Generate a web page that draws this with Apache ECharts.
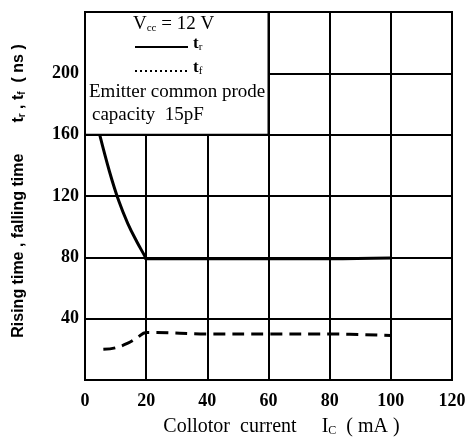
<!DOCTYPE html>
<html>
<head>
    <meta charset="utf-8">
    <title>Rising / falling time</title>
</head>
<body style="margin:0;background:#fff;">

    <div id="main" style="width: 476px; height: 438px;"></div>
    <script src="https://cdn.jsdelivr.net/npm/echarts@6/dist/echarts.min.js"></script>
    <script type="text/javascript">
        // values (x: mA, y: ns)
        var trCurrent = [4.8, 8, 11, 14, 17, 19.5, 20, 40, 60, 80, 100];
        var trTime    = [160, 136, 117, 102, 90, 81, 79, 79, 79, 79, 79.5];
        var tfCurrent = [6, 10, 14, 17, 20, 22, 40, 60, 80, 100];
        var tfTime    = [20, 21, 24, 27.5, 31, 31, 30, 30, 30, 29];
        var xTicks = [0, 20, 40, 60, 80, 100, 120];
        var yTicks = [40, 80, 120, 160, 200];

        var chartDom = document.getElementById('main');
        var myChart = echarts.init(chartDom);
        var option;

        function pairs(xs, ys) {
            return xs.map(function (x, i) { return [x, ys[i]]; });
        }

        var serif = 'Liberation Serif';
        var sub = { s: { fontSize: 11, fontFamily: serif, fill: '#000', padding: [8, 0, 0, 0] } };

        option = {
            animation: false,
            grid: {
                left: 85, right: 24, top: 12, bottom: 58,
                outerBoundsMode: 'none',
                show: true, borderColor: '#000', borderWidth: 2
            },
            xAxis: {
                type: 'value', min: 0, max: 120, interval: 20,
                name: 'Collotor  current     I{s|C}  ( mA )',
                nameLocation: 'middle', nameGap: 36,
                nameTextStyle: { fontFamily: serif, fontSize: 20, color: '#000', padding: [0, 0, 0, 26], rich: { s: { fontSize: 12, fontFamily: serif, padding: [9, 0, 0, 0] } } },
                axisLine: { lineStyle: { color: '#000', width: 2 } },
                axisTick: { show: false },
                splitLine: { lineStyle: { color: '#000', width: 2 } },
                axisLabel: {
                    margin: 12, color: '#000', fontFamily: serif, fontWeight: 'bold', fontSize: 18,
                    formatter: function (v) { return xTicks.indexOf(v) >= 0 ? String(v) : ''; }
                }
            },
            yAxis: {
                type: 'value', min: 0, max: 240, interval: 40,
                name: 'Rising time , falling time       t{s|r} , t{s|f}  ( ns )',
                nameLocation: 'middle', nameGap: 58, nameRotate: 90,
                nameTextStyle: {
                    fontFamily: 'Liberation Sans', fontWeight: 'bold', fontSize: 16, color: '#000',
                    padding: [0, 0, 0, 10],
                    rich: { s: { fontFamily: 'Liberation Sans', fontWeight: 'bold', fontSize: 10, padding: [6, 0, 0, 0] } }
                },
                axisLine: { lineStyle: { color: '#000', width: 2 } },
                axisTick: { show: false },
                splitLine: { lineStyle: { color: '#000', width: 2 } },
                axisLabel: {
                    margin: 6, color: '#000', fontFamily: serif, fontWeight: 'bold', fontSize: 18,
                    formatter: function (v) { return yTicks.indexOf(v) >= 0 ? String(v) : ''; }
                }
            },
            graphic: [
                { type: 'text', left: 133, top: 15, z: 10, style: { text: 'V{s|cc} = 12 V', rich: sub, font: '19px "Liberation Serif"', fill: '#000' } },
                { type: 'line', z: 10, shape: { x1: 135, y1: 47, x2: 188, y2: 47 }, style: { stroke: '#000', lineWidth: 2 } },
                { type: 'text', left: 193, top: 35, z: 10, style: { text: 't{s|r}', rich: sub, font: 'bold 17px "Liberation Serif"', fill: '#000' } },
                { type: 'line', z: 10, shape: { x1: 135, y1: 71, x2: 188, y2: 71 }, style: { stroke: '#000', lineWidth: 2, lineDash: [2, 3] } },
                { type: 'text', left: 193, top: 59, z: 10, style: { text: 't{s|f}', rich: sub, font: 'bold 17px "Liberation Serif"', fill: '#000' } },
                { type: 'text', left: 89, top: 83, z: 10, style: { text: 'Emitter common prode', font: '19px "Liberation Serif"', fill: '#000' } },
                { type: 'text', left: 92, top: 106, z: 10, style: { text: 'capacity  15pF', font: '19px "Liberation Serif"', fill: '#000' } }
            ],
            series: [
                {
                    name: 'tr', type: 'line', symbol: 'none',
                    smooth: 0.4,
                    lineStyle: { color: '#000', width: 3 },
                    data: pairs(trCurrent, trTime),
                    markArea: {
                        silent: true,
                        itemStyle: { color: '#fff', borderColor: '#000', borderWidth: 2 },
                        data: [[{ coord: [0, 160] }, { coord: [60, 240] }]]
                    }
                },
                {
                    name: 'tf', type: 'line', symbol: 'none',
                    smooth: 0.4,
                    lineStyle: { color: '#000', width: 3, type: [12, 7] },
                    data: pairs(tfCurrent, tfTime)
                }
            ]
        };

        option && myChart.setOption(option);
    </script>
</body>
</html>
